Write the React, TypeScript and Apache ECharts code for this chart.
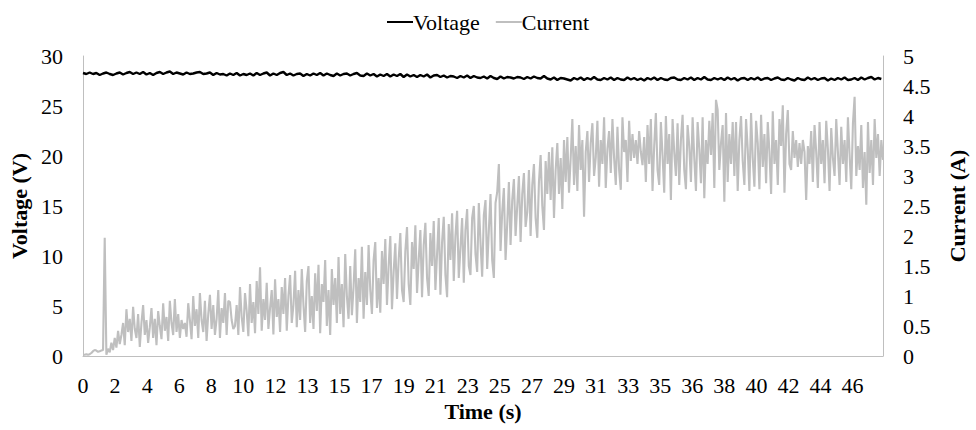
import React, { useEffect, useRef } from "react";
import * as echarts from "echarts";

const timeLabels = ["0","2","4","6","8","10","12","13","15","17","19","21","23","25","27","29","31","33","35","36","38","40","42","44","46"];
const labelStep = 1.92; // seconds between labelled categories
const currentStep = 0.1; // seconds between current samples
const voltageStep = 0.2; // seconds between voltage samples

const voltage = [
  28.3,28.2,28.35,28.2,28.3,28.1,28.25,28.35,28.2,28.1,
  28.25,28.35,28.15,28.3,28.4,28.2,28.35,28.2,28.4,28.15,
  28.3,28.1,28.3,28.4,28.2,28.35,28.45,28.2,28.35,28.25,
  28.15,28.35,28.2,28.25,28.35,28.4,28.2,28.25,28.35,28.1,
  28.3,28.15,28.2,28.05,28.25,28.1,28.3,28.05,28.2,28.1,
  28.25,28.05,28.3,28.1,28.25,28.35,28.05,28.25,28.1,28.3,
  28.4,28.1,28.25,28.05,28.2,28.25,28.0,28.2,28.05,28.25,
  28.1,28.3,28.05,28.25,28.1,28.0,28.25,28.05,28.2,28.25,
  28.05,28.2,28.3,28.05,28.0,28.25,28.05,28.2,27.95,28.15,
  28.0,28.2,27.95,28.15,28.0,28.2,27.9,28.15,27.95,28.1,
  27.9,28.1,27.95,28.15,27.85,28.05,28.1,27.9,28.05,27.85,
  28.0,27.95,27.8,28.0,27.85,28.05,27.8,28.0,27.85,27.8,
  27.95,27.75,28.0,27.8,27.7,27.95,27.75,27.9,27.85,27.75,
  27.9,27.85,27.7,27.9,27.75,27.95,27.8,27.75,28.0,27.75,
  27.65,27.85,27.6,27.8,27.75,27.65,27.55,27.8,27.65,27.85,
  27.6,27.8,27.65,27.9,27.65,27.6,27.8,27.65,27.85,27.6,
  27.8,27.65,27.6,27.85,27.65,27.8,27.6,27.75,27.55,27.8,
  27.65,27.85,27.6,27.8,27.65,27.6,27.8,27.85,27.65,27.6,
  27.8,27.65,27.85,27.6,27.8,27.65,27.9,27.65,27.6,27.8,
  27.65,27.8,27.6,27.85,27.65,27.8,27.55,27.75,27.8,27.6,
  27.8,27.65,27.85,27.6,27.75,27.8,27.6,27.75,27.85,27.65,
  27.6,27.8,27.65,27.55,27.8,27.65,27.6,27.85,27.65,27.8,
  27.6,27.75,27.8,27.55,27.75,27.6,27.8,27.65,27.85,27.6,
  27.65,27.8,27.6,27.85,27.65,27.8,27.9,27.65,27.8,27.7
];

const current = [
  0.02,0.02,0.03,0.02,0.03,0.05,0.08,0.1,0.09,0.07,
  0.08,0.09,0.1,1.97,0.02,0.12,0.06,0.22,0.1,0.3,
  0.14,0.42,0.2,0.35,0.55,0.18,0.78,0.4,0.62,0.25,
  0.82,0.45,0.3,0.7,0.15,0.55,0.85,0.35,0.6,0.22,
  0.48,0.8,0.3,0.62,0.18,0.75,0.5,0.28,0.88,0.42,
  0.65,0.25,0.92,0.55,0.35,0.95,0.4,0.7,0.3,0.6,
  0.45,0.55,0.32,0.88,0.6,0.28,1.0,0.5,0.78,0.3,
  1.05,0.6,0.4,0.92,0.25,0.7,1.02,0.45,0.85,0.35,
  0.62,1.1,0.3,0.8,0.55,1.05,0.35,0.92,0.9,0.6,
  0.45,0.5,0.85,0.35,1.15,0.65,0.4,1.05,0.75,0.33,
  1.2,0.55,0.9,0.38,1.25,0.7,1.48,0.42,0.95,0.6,
  1.22,0.45,0.8,1.1,0.36,1.28,0.65,0.95,0.4,1.15,
  0.7,1.3,0.42,1.0,1.35,0.55,0.85,1.42,0.48,1.1,
  0.6,1.45,0.85,0.4,1.25,1.5,0.55,1.0,0.45,1.38,
  0.75,1.52,0.38,1.2,0.9,1.6,0.5,1.1,0.35,1.45,
  0.85,1.3,0.55,1.65,0.7,1.2,0.48,1.7,1.0,0.62,
  1.5,0.68,1.15,1.78,0.55,1.3,0.9,1.82,0.62,1.4,
  0.85,1.85,1.1,0.7,1.6,1.9,0.8,1.3,0.72,1.75,
  1.2,1.95,0.85,1.5,2.0,0.78,1.4,1.88,0.95,1.6,
  2.05,1.1,0.9,1.75,2.15,1.2,0.85,1.9,1.45,2.18,
  1.05,1.6,2.1,0.98,1.85,2.22,1.3,1.0,2.05,1.5,
  2.25,1.1,1.7,2.3,1.02,1.9,2.32,1.35,0.98,2.2,
  1.6,2.38,1.25,2.0,2.42,1.3,1.8,2.3,1.22,2.1,
  2.45,1.5,1.35,2.3,2.5,1.7,1.4,2.55,1.9,1.32,
  2.35,2.6,1.45,2.1,2.7,1.6,1.3,2.55,2.73,3.2,
  1.75,2.4,2.8,1.6,2.2,2.9,1.85,2.6,2.95,2.0,
  2.5,3.0,1.9,2.7,3.05,2.15,2.4,3.1,2.0,2.85,
  3.2,2.3,1.97,2.9,3.35,2.5,2.1,3.25,2.7,3.4,
  2.6,3.48,2.3,3.1,3.55,2.7,3.3,2.45,3.6,2.9,
  3.65,2.72,3.3,3.95,2.85,3.5,2.75,3.85,3.1,3.6,
  2.32,3.4,3.75,2.9,3.55,3.88,3.0,3.3,3.92,2.82,
  3.6,3.2,3.98,2.8,3.45,3.75,3.05,3.95,3.3,2.85,
  3.82,3.1,2.77,3.98,3.4,3.6,2.9,3.92,3.25,3.7,
  3.3,3.6,3.2,3.75,3.4,3.18,3.65,2.9,3.85,3.2,
  3.95,2.75,3.5,4.05,3.1,2.85,3.9,3.35,2.72,4.0,
  3.2,3.7,2.6,3.95,3.4,3.0,3.88,2.85,3.6,4.02,
  3.1,2.78,3.85,3.5,2.9,3.98,3.3,2.75,3.9,3.45,
  2.88,3.98,2.63,3.6,3.2,3.92,3.35,4.05,2.8,4.27,
  4.1,3.1,3.55,3.85,2.57,4.05,2.9,3.7,3.2,3.9,
  3.0,3.9,2.75,3.6,4.0,3.25,2.85,3.95,3.45,2.75,
  4.05,3.3,2.82,3.92,3.55,2.78,4.02,3.15,3.7,2.88,
  3.9,3.4,2.7,4.08,3.2,3.6,2.85,3.95,3.5,4.18,
  2.72,3.7,4.1,3.2,3.1,3.75,3.3,3.6,3.15,3.55,
  3.2,3.6,3.4,2.6,3.5,3.2,3.75,2.9,3.85,3.4,
  2.8,3.9,3.2,3.6,2.88,3.92,3.45,2.75,3.8,3.3,
  3.0,3.95,3.4,2.85,3.82,3.2,3.6,2.9,3.98,3.35,
  2.78,3.88,4.32,3.0,3.5,3.1,3.85,2.8,3.4,2.52,
  3.9,3.05,3.6,2.85,3.95,3.3,3.7,3.0,3.6,3.27
];

const FONT = "'Liberation Serif', 'Times New Roman', serif";

export default function App() {
  const ref = useRef<HTMLDivElement>(null);
  useEffect(() => {
    if (!ref.current) return;
    const chart = echarts.init(ref.current, null, { renderer: "svg" });
    const axisLineStyle = { show: true, lineStyle: { color: "#BFBFBF", width: 1 } };
    const labelStyle = { fontFamily: FONT, fontSize: 22, color: "#000" };
    const titleStyle = { fontFamily: FONT, fontSize: 22, fontWeight: "bold", color: "#000" };
    chart.setOption({
      animation: false,
      backgroundColor: "#ffffff",
      textStyle: { fontFamily: FONT },
      legend: {
        top: 6,
        left: "center",
        icon: "rect",
        itemWidth: 26,
        itemHeight: 2,
        itemGap: 16,
        textStyle: { ...labelStyle, padding: [0, 0, 0, -5] },
        data: ["Voltage", "Current"],
      },
      grid: { left: 83, right: 82, top: 56, bottom: 74, containLabel: false },
      xAxis: {
        type: "value",
        min: 0,
        max: 47.9,
        interval: labelStep,
        name: "Time (s)",
        nameLocation: "middle",
        nameGap: 42,
        nameTextStyle: titleStyle,
        axisLine: axisLineStyle,
        axisTick: { show: false },
        splitLine: { show: false },
        axisLabel: {
          ...labelStyle,
          margin: 18,
          showMaxLabel: false,
          formatter: (v: number) => {
            const idx = Math.round(v / labelStep);
            if (Math.abs(v - idx * labelStep) > 0.01) return "";
            return timeLabels[idx] ?? "";
          },
        },
      },
      yAxis: [
        {
          type: "value",
          min: 0,
          max: 30,
          interval: 5,
          name: "Voltage (V)",
          nameLocation: "middle",
          nameRotate: 90,
          nameGap: 45,
          nameTextStyle: titleStyle,
          axisLine: axisLineStyle,
          axisTick: { show: false },
          splitLine: { show: false },
          axisLabel: { ...labelStyle, margin: 20 },
        },
        {
          type: "value",
          min: 0,
          max: 5,
          interval: 0.5,
          position: "right",
          name: "Current (A)",
          nameLocation: "middle",
          nameRotate: 90,
          nameGap: 63,
          nameTextStyle: titleStyle,
          axisLine: axisLineStyle,
          axisTick: { show: false },
          splitLine: { show: false },
          axisLabel: { ...labelStyle, margin: 20 },
        },
      ],
      series: [
        {
          name: "Voltage",
          type: "line",
          yAxisIndex: 0,
          showSymbol: false,
          symbol: "none",
          color: "#000000",
          lineStyle: { color: "#000000", width: 2.4 },
          z: 3,
          data: voltage.map((v, i) => [i * voltageStep, v]),
        },
        {
          name: "Current",
          type: "line",
          yAxisIndex: 1,
          showSymbol: false,
          symbol: "none",
          color: "#BFBFBF",
          lineStyle: { color: "#BFBFBF", width: 2.1 },
          z: 2,
          data: current.map((v, i) => [i * currentStep, v]),
        },
      ],
    });
    return () => chart.dispose();
  }, []);
  return (
    <div
      ref={ref}
      style={{ position: "fixed", left: 0, top: 0, width: 976, height: 430, background: "#fff" }}
    />
  );
}
